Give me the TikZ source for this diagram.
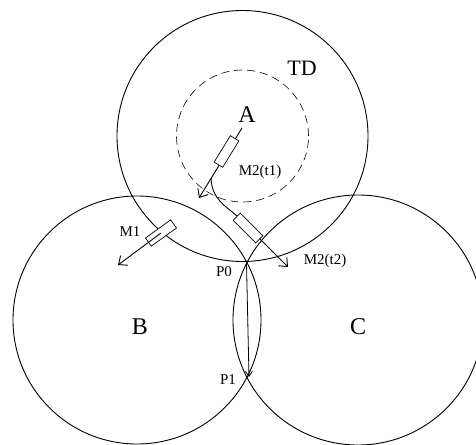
\documentclass[tikz,border=0pt]{standalone}
\usepackage{fontspec}
\setmainfont{Liberation Serif}
\usetikzlibrary{arrows.meta}

\begin{document}
\begin{tikzpicture}[
    x=1pt, y=-1pt,
    >={Straight Barb[length=7pt, width=12pt]},
    zone/.style={line width=0.9pt},
    vec/.style={->, line width=0.9pt},
    tag/.style={rectangle, draw, fill=white, line width=0.7pt, minimum width=31pt, minimum height=10pt, inner sep=0pt},
    big/.style={inner sep=0pt, font=\fontsize{24}{24}\selectfont},
    small/.style={inner sep=0pt, font=\fontsize{15}{15}\selectfont}
]
\useasboundingbox (0,0) rectangle (476,444);
\clip (0,0) rectangle (476,444);

% Cell centres
\coordinate (a) at (242.5, 136);
\coordinate (b) at (137, 320);
\coordinate (c) at (358, 320);

% Cells and the TD zone
\draw[zone] (a) circle[radius=125.5pt];
\draw[zone] (b) circle[radius=124pt];
\draw[zone] (c) circle[radius=125pt];
\draw[line width=0.6pt, dash pattern=on 8pt off 5pt] (a) circle[radius=66pt];

% Path ends
\coordinate (m2start) at (242, 128);
\coordinate (m2tip1) at (199, 198);
\coordinate (m2split) at (211, 178);
\coordinate (m2bend) at (237, 216);
\coordinate (m2tip2) at (288, 267);
\coordinate (m1tip) at (118, 265);
\coordinate (p0) at (246.5, 263);
\coordinate (p1) at (249, 377);

% M2 moving from t1 to t2
\draw[vec] (m2start) -- (m2tip1);
\draw[vec] (m2split) .. controls (212, 200) and (226, 206) .. (m2bend) -- (m2tip2);

% Boundary from P0 to P1
\draw[->, line width=0.8pt, >={Straight Barb[length=5pt, width=7pt]}] (p0) -- (p1);

% Mobiles
\node[tag, rotate=58.4] (r1) at (226.5, 151.5) {};
\node[tag, rotate=-45, minimum width=32pt] (r2) at (248, 228) {};
\node[tag, rotate=35.8] (r3) at (161, 233) {};
\draw[vec] (r3.center) -- (m1tip);

% Labels
\node[big] (la) at (247, 115) {A};
\node[big] (lb) at (140, 327) {B};
\node[big] (lc) at (358, 327) {C};
\node[inner sep=0pt, font=\fontsize{22}{22}\selectfont] (ltd) at (302, 68) {TD};
\node[small] (lm1) at (130, 232) {M1};
\node[small] (lt1) at (260, 172) {M2(t1)};
\node[small] (lt2) at (325, 261) {M2(t2)};
\node[small] (lp0) at (224, 272) {P0};
\node[small] (lp1) at (228, 380) {P1};

\end{tikzpicture}
\end{document}
